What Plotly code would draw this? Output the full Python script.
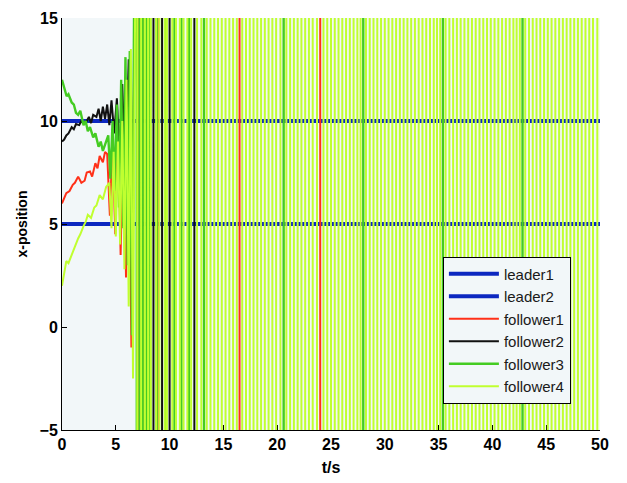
import plotly.graph_objects as go

# ---------------- data ----------------
t_end = 50.0
leader1_y = 10.0
leader2_y = 5.0

# early (bounded) part of each follower
f1_t = [0, 0.2, 0.4, 0.7, 1.0, 1.2, 1.5, 1.8, 2.1, 2.3, 2.6, 2.8, 3.1, 3.3, 3.5, 3.8, 4.0,
        4.2, 4.45, 4.7, 4.95, 5.2, 5.45, 5.7, 5.95, 6.2, 6.45, 6.7]
f1_y = [6.0, 6.3, 6.5, 6.6, 6.9, 7.0, 7.3, 7.0, 7.1, 7.5, 7.55, 7.3, 7.95, 7.7, 8.3, 8.0, 8.5,
        8.4, 5.4, 9.0, 4.5, 9.8, 3.5, 10.5, 2.4, 11.2, -1.0, 12.5]

f2_t = [0, 0.2, 0.4, 0.6, 0.9, 1.1, 1.3, 1.6, 1.8, 2.0, 2.3, 2.5, 2.7, 2.9, 3.2, 3.4, 3.6,
        3.8, 4.0, 4.2, 4.4, 4.6, 4.85, 5.1, 5.35, 5.6, 5.9, 6.2, 6.5, 6.8]
f2_y = [9.0, 9.1, 9.3, 9.4, 9.7, 9.6, 9.85, 9.8, 10.0, 9.9, 10.0, 10.2, 9.9, 10.3, 10.2, 10.6, 10.0,
        10.7, 10.1, 10.8, 9.8, 11.0, 9.4, 11.1, 8.4, 11.8, 7.0, 13.0, 4.0, 15.5]

f3_t = [0, 0.2, 0.43, 0.6, 0.9, 1.1, 1.3, 1.5, 1.7, 2.0, 2.2, 2.4, 2.6, 2.9, 3.1, 3.4, 3.6,
        3.8, 4.0, 4.3, 4.5, 4.7, 4.9, 5.1, 5.3, 5.5, 5.7, 5.9, 6.1, 6.3, 6.5, 6.7]
f3_y = [12.0, 11.6, 11.2, 11.3, 10.9, 10.8, 10.4, 10.3, 10.5, 9.8, 10.0, 9.5, 9.7, 9.2, 9.4, 8.75, 9.0,
        8.55, 8.9, 9.3, 7.2, 10.0, 6.6, 10.8, 5.8, 12.0, 4.8, 13.1, 3.0, 13.4, -0.4, 15.5]

f4_t = [0, 0.2, 0.4, 0.6, 0.9, 1.2, 1.5, 1.7, 2.0, 2.2, 2.4, 2.7, 3.0, 3.2, 3.5, 3.8, 4.1,
        4.4, 4.6, 4.8, 5.0, 5.2, 5.4, 5.6, 5.8, 6.0, 6.2, 6.4, 6.6, 6.8]
f4_y = [2.0, 2.6, 3.2, 3.1, 3.55, 3.9, 4.3, 4.5, 4.9, 5.1, 5.45, 5.3, 5.8, 5.9, 6.4, 6.2, 6.8,
        7.0, 4.8, 8.5, 4.4, 9.0, 4.0, 10.0, 2.8, 12.0, 1.0, 13.5, -2.5, 16.0]

# times at which each diverged follower sweeps through the whole axis range
f1_cross = [7.05, 7.65, 8.0, 8.9, 16.5, 24.0]
f2_cross = [7.33, 8.5, 9.3, 10.0, 12.3]
f3_cross = [6.95, 7.2, 7.5, 7.85, 8.2, 8.8, 9.6, 10.45, 11.1, 11.8, 13.2, 20.6, 28.0, 35.4, 42.8]
f4_cross = [7.0, 7.35, 7.7, 8.0, 8.25, 8.75, 9.05, 9.55, 9.75, 10.25, 10.6, 10.95, 11.3, 11.65,
            12.0, 12.55, 12.95, 13.45, 13.8, 14.15, 14.5, 14.85, 15.2, 15.55, 15.9, 16.25, 16.75,
            17.1, 17.45, 17.8, 18.15, 18.5, 18.85, 19.2, 19.55, 19.9, 20.3, 20.85, 21.2, 21.55,
            21.9, 22.25, 22.6, 22.95, 23.3, 23.7, 24.3, 24.65, 25.0, 25.35, 25.7, 26.05, 26.4,
            26.75, 27.1, 27.45, 27.75, 28.25, 28.6, 28.95, 29.3, 29.65, 30.0, 30.35, 30.7, 31.05,
            31.4, 31.75, 32.1, 32.45, 32.8, 33.15, 33.5, 33.85, 34.2, 34.55, 34.85, 35.15, 35.65,
            36.0, 36.35, 36.7, 37.05, 37.4, 37.75, 38.1, 38.45, 38.8, 39.15, 39.5, 39.85, 40.2,
            40.55, 40.9, 41.25, 41.6, 41.95, 42.25, 42.55, 43.05, 43.4, 43.75, 44.1, 44.45, 44.8,
            45.15, 45.5, 45.85, 46.2, 46.55, 46.9, 47.25, 47.6, 47.95, 48.3, 48.65, 49.0, 49.35,
            49.75]

OFF_SCALE = 1.0e4   # magnitude of the diverged states (far outside the axis)

names = ["leader1", "leader2", "follower1", "follower2", "follower3", "follower4"]
colors = ["#0c28c0", "#0c28c0", "#ff3018", "#111111", "#44cc22", "#c0ff30"]


def build(early_t, early_y, cross):
    xs, ys = list(early_t), list(early_y)
    sign = 1 if early_y[-1] > 5 else -1
    e = 0.002
    for c in cross:
        xs += [c - e, c + e]
        ys += [sign * OFF_SCALE, -sign * OFF_SCALE]
        sign = -sign
    xs.append(t_end)
    ys.append(sign * OFF_SCALE)
    return xs, ys


fig = go.Figure()
fig.add_trace(go.Scatter(x=[0, t_end], y=[leader1_y, leader1_y], mode="lines", name=names[0],
                         line=dict(color=colors[0], width=4)))
fig.add_trace(go.Scatter(x=[0, t_end], y=[leader2_y, leader2_y], mode="lines", name=names[1],
                         line=dict(color=colors[1], width=4)))
for (et, ey, cr), nm, col, w in zip(
        [(f1_t, f1_y, f1_cross), (f2_t, f2_y, f2_cross), (f3_t, f3_y, f3_cross), (f4_t, f4_y, f4_cross)],
        names[2:], colors[2:], [2, 2, 2.4, 2.0]):
    xs, ys = build(et, ey, cr)
    fig.add_trace(go.Scatter(x=xs, y=ys, mode="lines", name=nm,
                             line=dict(color=col, width=w)))

tick_font = dict(family="Liberation Sans", size=16, color="black", weight="bold")
fig.update_layout(
    width=627, height=483,
    margin=dict(l=62, r=27, t=10, b=48),
    paper_bgcolor="white",
    plot_bgcolor="#f2f7f9",
    showlegend=True,
    legend=dict(x=0.708, y=0.421, xanchor="left", yanchor="top",
                bgcolor="#f2f7f9", bordercolor="black", borderwidth=1,
                font=dict(family="Liberation Sans", size=15, color="#1a1a1a"),
                itemwidth=50),
    xaxis=dict(range=[0, 50], tickvals=[0, 5, 10, 15, 20, 25, 30, 35, 40, 45, 50],
               ticks="inside", ticklen=5, tickcolor="black", showline=True, linecolor="black",
               linewidth=1, showgrid=False, zeroline=False, tickfont=tick_font,
               layer="below traces",
               title=dict(text="t/s", font=tick_font, standoff=9)),
    yaxis=dict(range=[-5, 15], tickvals=[-5, 0, 5, 10, 15],
               ticks="inside", ticklen=5, tickcolor="black", showline=True, linecolor="black",
               linewidth=1, showgrid=False, zeroline=False, tickfont=tick_font,
               title=dict(text="x-position", font=dict(family="Liberation Sans", size=14,
                                                       color="black", weight="bold"), standoff=8)),
)
fig.write_html("out.html")
